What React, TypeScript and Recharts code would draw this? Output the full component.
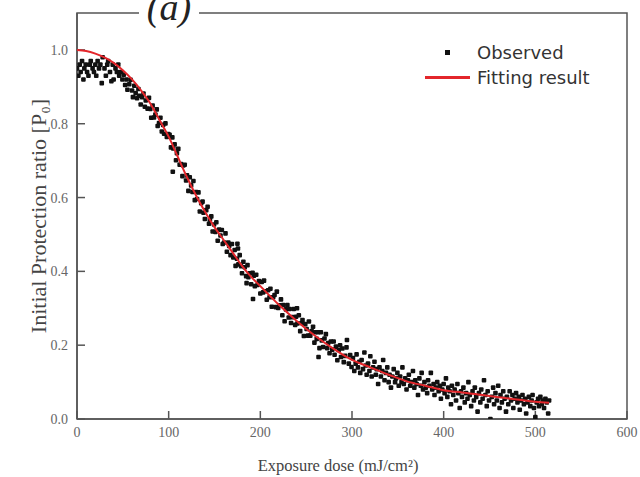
import React from 'react';
import { ComposedChart, Scatter, Line, XAxis, YAxis, ReferenceArea, Legend, Label } from 'recharts';

const fitDose = [0, 10, 20, 30, 40, 50, 60, 70, 80, 90, 100, 110, 120, 130, 140, 150, 160, 170, 180, 190, 200, 220, 240, 260, 280, 300, 320, 340, 360, 380, 400, 420, 440, 460, 480, 500, 515];
const fitRatio = [1.0, 0.997, 0.99, 0.98, 0.965, 0.945, 0.92, 0.89, 0.855, 0.81, 0.765, 0.71, 0.655, 0.605, 0.56, 0.52, 0.485, 0.45, 0.415, 0.385, 0.36, 0.31, 0.265, 0.225, 0.19, 0.16, 0.14, 0.12, 0.102, 0.09, 0.078, 0.072, 0.066, 0.059, 0.053, 0.047, 0.044];

const obsDose = [
  0, 1.5, 3, 4, 5.5, 7, 8, 9.5, 11, 12.5, 14, 15, 17, 18.5, 20, 21, 22.5, 24, 25.5, 27, 28, 30, 31.5, 33, 34, 36, 37.5, 39, 40, 42, 43.5, 45, 46, 48, 49.5,
  51, 52.5, 54, 55, 57, 58.5, 60, 61, 62.5, 64, 65.5, 67, 68, 69.5, 71, 72.5, 74, 75, 77, 78.5, 80, 81, 82.5, 84, 85.5, 87, 88, 89.5, 91, 92.5, 94, 95, 96.5, 98, 99.5,
  101, 102.5, 104, 104.5, 105, 106.5, 108, 109, 110.5, 112, 113.5, 115, 116, 117.5, 119, 120, 121.5, 123, 124.5, 126, 127, 128.5, 130, 131, 132.5, 134, 135.5, 137, 138, 139.5,
  141, 142.5, 144, 145, 146.5, 148, 149.5, 151, 152, 153.5, 155, 156.5, 158, 159, 160.5, 162, 163.5, 165, 166, 167.5, 169, 170.5, 172, 173, 174.5, 175, 175.6, 176, 177.5, 179,
  180, 181.5, 183, 184.5, 185, 186, 187, 188.5, 190, 191.5, 192, 193, 194, 195.5, 197, 198.5, 200,
  201.5, 203, 204, 205.5, 207, 208.5, 210, 211, 212.5, 214, 215.5, 217, 218, 219.5, 221, 222.5, 224, 225, 226.5, 228, 229.5, 231, 232, 233.5, 235, 236.5, 238, 239, 240, 240.5,
  242, 243.5, 245, 246, 247.5, 249, 250.5, 252, 253, 254.5, 256, 257.5, 259, 260, 261.5, 263, 263.5, 264.5, 266, 267, 268.5, 270, 271.5, 273, 274, 275.5, 277, 278.5, 280,
  281, 282.5, 284, 285.5, 287, 288, 289.5, 291, 292.5, 294, 294.5, 296.5, 298, 299.5,
  301, 302.5, 304, 305, 306.5, 308, 309, 310.5, 312, 313.5, 315, 316, 317.5, 319, 320, 321.5, 323, 324.5, 326, 327, 328.5, 330, 331.5, 333, 334, 335.5, 337, 338.5, 340,
  341, 342.5, 344, 345.5, 347, 348, 349.5, 351, 352.5, 354, 355, 356.5, 358, 359.5, 361, 362, 363.5, 365, 366.5, 368, 369, 370.5, 372, 373.5, 375, 376, 377.5, 379, 380.5,
  382, 383, 384.5, 386, 387.5, 389, 390, 391.5, 393, 394.5, 396, 397, 398.5, 400,
  401, 402.5, 404, 405, 406.5, 408, 409, 410.5, 412, 413.5, 415, 416, 417.5, 419, 420, 421.5, 423, 424.5, 426, 427, 428.5, 430, 431.5, 433, 434, 435.5, 437, 438.5, 440,
  441, 442.5, 444, 445.5, 447, 448, 449.5, 451, 452.5, 454, 455, 456.5, 458, 459.5, 461, 462, 463.5, 465, 466.5, 468, 469, 470.5, 472, 473.5, 475, 476, 477.5, 479, 480.5,
  482, 483, 484.5, 486, 487.5, 489, 490, 491.5, 493, 494.5, 496, 497, 498.5, 500, 501.5, 503, 504, 505.5, 507, 508, 509.5, 511, 512.5, 514, 515,
];
const obsRatio = [
  0.95, 0.93, 0.96, 0.94, 0.97, 0.92, 0.95, 0.96, 0.94, 0.93, 0.96, 0.97, 0.95, 0.94, 0.96, 0.93, 0.97, 0.95, 0.96, 0.91, 0.98, 0.95, 0.93, 0.96, 0.97, 0.94, 0.915, 0.96, 0.92, 0.95, 0.94, 0.96, 0.93, 0.94, 0.92,
  0.933, 0.905, 0.92, 0.892, 0.907, 0.919, 0.89, 0.872, 0.903, 0.883, 0.869, 0.894, 0.876, 0.852, 0.872, 0.882, 0.846, 0.863, 0.841, 0.87, 0.84, 0.816, 0.849, 0.817, 0.825, 0.839, 0.794, 0.802, 0.816, 0.779, 0.797, 0.773, 0.801, 0.764, 0.772,
  0.77, 0.736, 0.763, 0.67, 0.733, 0.744, 0.701, 0.72, 0.732, 0.689, 0.691, 0.658, 0.687, 0.689, 0.646, 0.66, 0.618, 0.655, 0.633, 0.615, 0.645, 0.593, 0.615, 0.596, 0.614, 0.562, 0.585, 0.589, 0.559, 0.542,
  0.566, 0.575, 0.529, 0.54, 0.549, 0.508, 0.527, 0.507, 0.533, 0.483, 0.513, 0.497, 0.512, 0.474, 0.478, 0.503, 0.453, 0.478, 0.469, 0.444, 0.474, 0.438, 0.458, 0.415, 0.434, 0.475, 0.462, 0.419, 0.444, 0.414,
  0.395, 0.426, 0.411, 0.387, 0.368, 0.417, 0.384, 0.395, 0.365, 0.396, 0.325, 0.388, 0.36, 0.391, 0.363, 0.374, 0.34,
  0.371, 0.343, 0.375, 0.346, 0.323, 0.349, 0.33, 0.353, 0.304, 0.33, 0.336, 0.303, 0.345, 0.301, 0.308, 0.324, 0.281, 0.309, 0.265, 0.297, 0.309, 0.275, 0.298, 0.26, 0.276, 0.298, 0.255, 0.277, 0.30, 0.259,
  0.281, 0.238, 0.26, 0.268, 0.225, 0.257, 0.244, 0.226, 0.264, 0.226, 0.238, 0.25, 0.207, 0.235, 0.217, 0.235, 0.168, 0.192, 0.235, 0.213, 0.195, 0.218, 0.23, 0.192, 0.206, 0.178, 0.21, 0.188, 0.21,
  0.174, 0.196, 0.159, 0.187, 0.20, 0.168, 0.191, 0.154, 0.171, 0.194, 0.214, 0.15, 0.173, 0.141,
  0.165, 0.13, 0.15, 0.175, 0.14, 0.155, 0.125, 0.16, 0.135, 0.18, 0.145, 0.12, 0.15, 0.13, 0.17, 0.115, 0.14, 0.155, 0.12, 0.135, 0.095, 0.14, 0.115, 0.13, 0.16, 0.105, 0.125, 0.14, 0.10,
  0.12, 0.085, 0.115, 0.135, 0.10, 0.11, 0.125, 0.09, 0.115, 0.10, 0.14, 0.095, 0.11, 0.08, 0.105, 0.12, 0.09, 0.10, 0.13, 0.085, 0.105, 0.095, 0.065, 0.11, 0.09, 0.125, 0.08, 0.10, 0.085,
  0.07, 0.105, 0.09, 0.125, 0.08, 0.095, 0.065, 0.085, 0.10, 0.075, 0.09, 0.055, 0.08, 0.095,
  0.07, 0.11, 0.06, 0.085, 0.075, 0.04, 0.09, 0.065, 0.08, 0.05, 0.095, 0.07, 0.03, 0.075, 0.06, 0.085, 0.045, 0.07, 0.055, 0.10, 0.065, 0.035, 0.075, 0.05, 0.085, 0.06, 0.02, 0.07, 0.045,
  0.08, 0.055, 0.105, 0.065, 0.035, 0.075, 0.05, 0.0, 0.06, 0.085, 0.04, 0.07, 0.05, 0.09, 0.03, 0.065, 0.045, 0.075, 0.055, 0.02, 0.06, 0.04, 0.075, 0.05, 0.065, 0.03, 0.055, 0.07, 0.045,
  0.06, 0.025, 0.05, 0.065, 0.04, 0.055, 0.015, 0.045, 0.06, 0.035, 0.05, 0.065, 0.03, 0.005, 0.045, 0.055, 0.035, 0.06, 0.04, 0.05, 0.03, 0.055, 0.045, 0.015, 0.05,
];

const xMajorTicks = [0, 100, 200, 300, 400, 500, 600];
const xMinorTicks = [50, 150, 250, 350, 450, 550];
const yMajorTicks = [0, 0.2, 0.4, 0.6, 0.8, 1.0];
const yMinorTicks = [0.1, 0.3, 0.5, 0.7, 0.9];

const observed = obsDose.map((x, i) => ({ x, y: obsRatio[i] }));
const fitted = fitDose.map((x, i) => ({ x, y: fitRatio[i] }));

const AXIS = '#555';
const TICK_TEXT = '#666';
const RED = '#e3262b';

const SquareDot = (props: any) => {
  const { cx, cy } = props;
  if (cx == null || cy == null) return null;
  return <rect x={cx - 2.3} y={cy - 2.3} width={4.6} height={4.6} rx={1} fill="#111" />;
};

const renderLegend = () => (
  <div style={{ fontFamily: '"DejaVu Sans", sans-serif', fontSize: 18, color: '#333', lineHeight: '25px' }}>
    <div style={{ display: 'flex', alignItems: 'center', height: 25 }}>
      <span style={{ width: 45, marginRight: 7, display: 'inline-flex', justifyContent: 'center' }}>
        <span style={{ width: 5, height: 5, background: '#111', display: 'inline-block' }} />
      </span>
      Observed
    </div>
    <div style={{ display: 'flex', alignItems: 'center', height: 25 }}>
      <span style={{ width: 45, height: 3, marginRight: 7, background: RED, display: 'inline-block' }} />
      Fitting result
    </div>
  </div>
);

export default function App() {
  const tickStyle = { fontFamily: '"Liberation Serif", "Times New Roman", serif', fontSize: 14, fill: TICK_TEXT };
  const lineExtra: any = { zIndex: 700 };
  return (
    <div style={{ position: 'absolute', left: 0, top: 0, width: 640, height: 477, background: '#fff' }}>
      <ComposedChart width={640} height={477} margin={{ top: 13, right: 13, bottom: 0, left: 0 }}>
        <XAxis
          xAxisId="x"
          type="number"
          dataKey="x"
          domain={[0, 600]}
          ticks={xMajorTicks}
          height={58}
          tickSize={-8}
          tickMargin={16}
          tick={tickStyle}
          stroke={AXIS}
          strokeWidth={1.5}
          allowDataOverflow
        >
          <Label
            value="Exposure dose (mJ/cm²)"
            position="insideBottom"
            offset={6}
            dx={-14}
            style={{ fontFamily: '"Liberation Serif", serif', fontSize: 16.5, fill: '#444' }}
          />
        </XAxis>
        <XAxis
          xAxisId="xm"
          type="number"
          domain={[0, 600]}
          ticks={xMinorTicks}
          mirror
          height={0}
          tickSize={5}
          axisLine={false}
          tickFormatter={() => ''}
          stroke={AXIS}
          allowDataOverflow
        />
        <YAxis
          yAxisId="y"
          type="number"
          dataKey="y"
          domain={[0, 1.1]}
          ticks={yMajorTicks}
          width={77}
          tickSize={-8}
          tickMargin={17}
          tick={tickStyle}
          tickFormatter={(v: number) => v.toFixed(1)}
          stroke={AXIS}
          strokeWidth={1.5}
          allowDataOverflow
        >
          <Label
            value="Initial Protection ratio [P₀]"
            angle={-90}
            position="insideLeft"
            offset={38}
            style={{ textAnchor: 'middle', fontFamily: '"Liberation Serif", serif', fontSize: 22, fill: '#444' }}
          />
        </YAxis>
        <YAxis
          yAxisId="ym"
          type="number"
          domain={[0, 1.1]}
          ticks={yMinorTicks}
          mirror
          width={0}
          tickSize={5}
          axisLine={false}
          tickFormatter={() => ''}
          stroke={AXIS}
          allowDataOverflow
        />
        <ReferenceArea
          xAxisId="x"
          yAxisId="y"
          x1={0}
          x2={600}
          y1={0}
          y2={1.1}
          fill="none"
          fillOpacity={0}
          stroke={AXIS}
          strokeWidth={1.5}
          ifOverflow="visible"
        />
        <Scatter
          name="Observed"
          xAxisId="x"
          yAxisId="y"
          data={observed}
          dataKey="y"
          shape={SquareDot}
          isAnimationActive={false}
        />
        <Line
          name="Fitting result"
          xAxisId="x"
          yAxisId="y"
          data={fitted}
          dataKey="y"
          type="monotone"
          stroke={RED}
          strokeWidth={2}
          dot={false}
          activeDot={false}
          isAnimationActive={false}
          {...lineExtra}
        />
        <Legend
          content={renderLegend}
          layout="vertical"
          align="center"
          verticalAlign="middle"
          wrapperStyle={{ position: 'absolute', left: 425, top: 40, width: 200, margin: 0 }}
        />
      </ComposedChart>
      <svg width={70} height={30} style={{ position: 'absolute', left: 134, top: 0 }}>
        <rect x={5} y={0} width={60} height={30} fill="#fff" />
        <text
          x={35}
          y={20}
          textAnchor="middle"
          style={{ fontFamily: '"Liberation Serif", serif', fontSize: 38, fontStyle: 'italic', fill: '#222' }}
        >
          (a)
        </text>
      </svg>
    </div>
  );
}
